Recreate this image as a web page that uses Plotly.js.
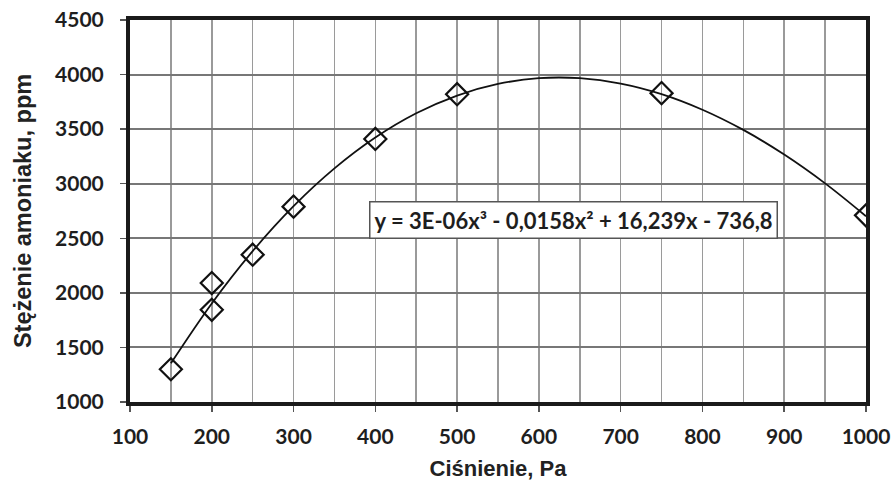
<!DOCTYPE html>
<html><head><meta charset="utf-8">
<script src="https://cdn.plot.ly/plotly-3.0.1.min.js"></script>
<style>html,body{margin:0;padding:0;background:#fff}#chart{width:894px;height:481px}</style>
</head><body><div id="chart"></div>
<script>
// Measured points (pressure, Pa -> ammonia concentration, ppm)
var pressure = [150, 200, 200, 250, 300, 400, 500, 750, 1000];
var concentration = [1300, 2090, 1845, 2350, 2790, 3410, 3820, 3830, 2710];

// Trend curve values read along the drawn cubic trendline
var trendX = [150, 200, 250, 300, 350, 400, 450, 500, 550, 600, 650, 700, 750, 800, 850, 900, 950, 1000];
var trendY = [1354, 1903, 2382, 2794, 3140, 3423, 3645, 3808, 3914, 3967, 3967, 3918, 3821, 3678, 3493, 3267, 3003, 2702];

var equationText = "y = 3E-06x³ - 0,0158x² + 16,239x - 736,8";
var xTitle = "Ciśnienie, Pa";
var yTitle = "Stężenie amoniaku, ppm";

var tickFont = {family: "Lato, 'Open Sans', sans-serif", size: 21, color: "#1e1e1e", weight: 700};
var titleFamily = "'Liberation Sans', Arial, sans-serif";

var traces = [
  {x: trendX, y: trendY, type: "scatter", mode: "lines",
   line: {color: "#111", width: 1.8, shape: "spline", smoothing: 1.0}, hoverinfo: "skip"},
  {x: pressure, y: concentration, type: "scatter", mode: "markers",
   marker: {symbol: "diamond-open", size: 17, color: "#111", line: {width: 2.2, color: "#111"}}}
];

var layout = {
  width: 894, height: 481,
  margin: {l: 130, r: 28, t: 20, b: 79},
  paper_bgcolor: "#fff", plot_bgcolor: "#fff",
  showlegend: false,
  xaxis: {
    range: [100, 1000], dtick: 100, tick0: 100,
    showgrid: true, gridcolor: "#9a9a9a", gridwidth: 1.5,
    minor: {dtick: 50, tick0: 100, showgrid: true, gridcolor: "#9a9a9a", gridwidth: 1.5, ticks: ""},
    showline: true, linecolor: "#1a1a1a", linewidth: 4, mirror: true,
    ticks: "outside", ticklen: 6, tickwidth: 1.5, tickcolor: "#555",
    ticklabelstandoff: 7,
    tickfont: tickFont, zeroline: false,
    title: {text: xTitle, standoff: 14, font: {family: titleFamily, size: 22, color: "#222", weight: 700}}
  },
  yaxis: {
    range: [1000, 4500], dtick: 500, tick0: 1000,
    showgrid: true, gridcolor: "#777", gridwidth: 2,
    showline: true, linecolor: "#1a1a1a", linewidth: 4, mirror: true,
    ticks: "outside", ticklen: 6, tickwidth: 1.5, tickcolor: "#555",
    ticklabelstandoff: 12,
    tickfont: tickFont, zeroline: false,
    title: {text: yTitle, standoff: 18, font: {family: titleFamily, size: 23.5, color: "#222", weight: 700}}
  },
  annotations: [{
    x: 642, y: 2672, xref: "x", yref: "y", showarrow: false,
    text: equationText,
    font: {family: "Lato, 'Open Sans', sans-serif", size: 22, color: "#1e1e1e", weight: 700},
    bgcolor: "#fff", bordercolor: "#555", borderwidth: 1.5, borderpad: 4
  }]
};

Plotly.newPlot("chart", traces, layout, {displayModeBar: false, staticPlot: true});
</script>
</body></html>
